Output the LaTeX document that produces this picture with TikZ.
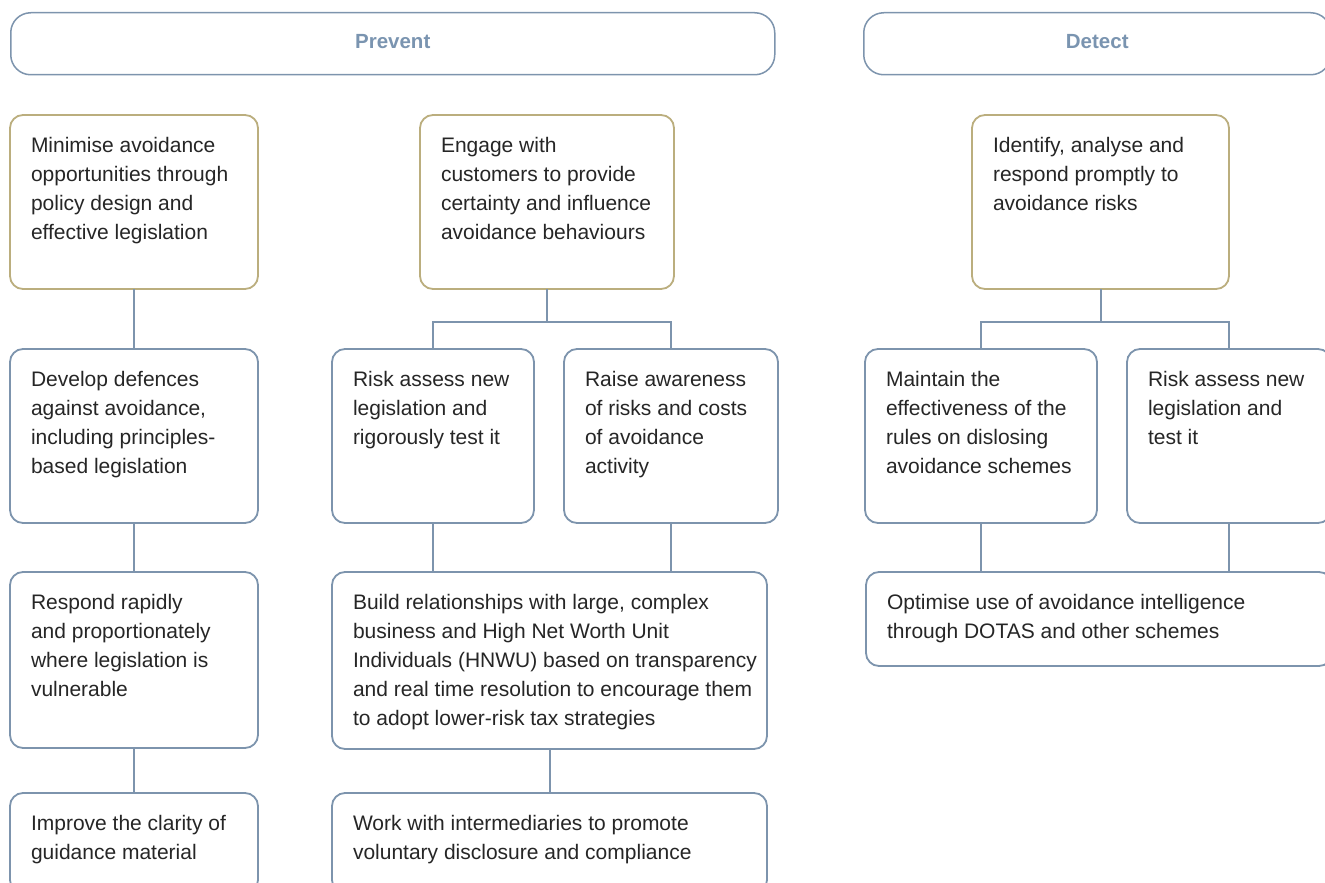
\documentclass[tikz,border=0pt]{standalone}
\usepackage{fontspec}
\setmainfont{Liberation Sans}
\definecolor{gold}{HTML}{BBAE7E}
\definecolor{slate}{HTML}{7D94AD}
\definecolor{hdtext}{HTML}{7A94B0}
\definecolor{txt}{HTML}{262626}
\newcommand{\bx}[7]{%
  \node[#6, minimum width=#4pt, minimum height=#5pt, anchor=north west] (#1) at (#2,#3)
  {\parbox[c][#5pt][t]{#4pt}{\vspace*{16.7pt}\parindent=0pt\leftskip=21pt\rightskip=0pt plus 1fil\fontsize{21}{29}\selectfont\strut #7}};}
\tikzset{
  boxbase/.style={rectangle, rounded corners=13pt, line width=1.8pt, inner sep=0pt, outer sep=0pt, fill=white, text=txt},
  goldbox/.style={boxbase, draw=gold},
  bluebox/.style={boxbase, draw=slate},
  hdr/.style={rectangle, rounded corners=20pt, draw=slate, line width=1.5pt, inner sep=0pt, text=hdtext,
    font=\fontsize{20.5}{24}\selectfont\bfseries, text depth=5pt},
  conn/.style={draw=slate, line width=2pt}
}
\begin{document}
\begin{tikzpicture}[x=1pt,y=-1pt]
\useasboundingbox (0,0) rectangle (1325,883);
% headers
\node[hdr, minimum width=764pt, minimum height=62pt, anchor=north west] (prev) at (10,12) {Prevent};
\node[hdr, minimum width=467pt, minimum height=62pt, anchor=north west] (det) at (863,12) {Detect};
% boxes
\bx{a}{10}{115}{248}{174}{goldbox}{Minimise avoidance\\opportunities through\\policy design and\\effective legislation}
\bx{eng}{420}{115}{254}{174}{goldbox}{Engage with\\customers to provide\\certainty and influence\\avoidance behaviours}
\bx{idf}{972}{115}{257}{174}{goldbox}{Identify, analyse and\\respond promptly to\\avoidance risks}
\bx{dev}{10}{349}{248}{174}{bluebox}{Develop defences\\against avoidance,\\including principles-\\based legislation}
\bx{risk}{332}{349}{202}{174}{bluebox}{Risk assess new\\legislation and\\rigorously test it}
\bx{raise}{564}{349}{214}{174}{bluebox}{Raise awareness\\of risks and costs\\of avoidance\\activity}
\bx{main}{865}{349}{232}{174}{bluebox}{Maintain the\\effectiveness of the\\rules on dislosing\\avoidance schemes}
\bx{risktwo}{1127}{349}{204}{174}{bluebox}{Risk assess new\\legislation and\\test it}
\bx{resp}{10}{572}{248}{176}{bluebox}{Respond rapidly\\and proportionately\\where legislation is\\vulnerable}
\bx{build}{332}{572}{435}{177}{bluebox}{Build relationships with large, complex\\business and High Net Worth Unit\\Individuals (HNWU) based on transparency\\and real time resolution to encourage them\\to adopt lower-risk tax strategies}
\bx{opt}{866}{572}{466}{94}{bluebox}{Optimise use of avoidance intelligence\\through DOTAS and other schemes}
\bx{imp}{10}{793}{248}{100}{bluebox}{Improve the clarity of\\guidance material}
\bx{work}{332}{793}{435}{100}{bluebox}{Work with intermediaries to promote\\voluntary disclosure and compliance}
% junctions
\path (eng.south) ++(0,33) coordinate (j1);
\path (idf.south) ++(0,33) coordinate (j2);
% connectors
\draw[conn] (a.south) -- (dev.north);
\draw[conn] (dev.south) -- (resp.north);
\draw[conn] (resp.south) -- (imp.north);
\draw[conn] (eng.south) -- (j1);
\draw[conn] (risk.north) |- (j1) -| (raise.north);
\draw[conn] (risk.south) -- (risk.south |- build.north);
\draw[conn] (raise.south) -- (raise.south |- build.north);
\draw[conn] (build.south) -- (build.south |- work.north);
\draw[conn] (idf.south) -- (j2);
\draw[conn] (main.north) |- (j2) -| (risktwo.north);
\draw[conn] (main.south) -- (main.south |- opt.north);
\draw[conn] (risktwo.south) -- (risktwo.south |- opt.north);
\end{tikzpicture}
\end{document}
